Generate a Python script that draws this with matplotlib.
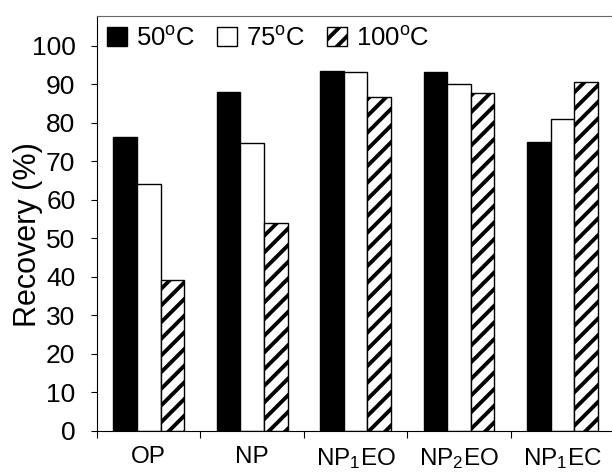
import matplotlib.pyplot as plt
import numpy as np

plt.rcParams['font.family'] = ['Liberation Sans', 'DejaVu Sans']
plt.rcParams['mathtext.fontset'] = 'custom'
plt.rcParams['mathtext.rm'] = 'Liberation Sans'
plt.rcParams['mathtext.it'] = 'Liberation Sans'
plt.rcParams['hatch.linewidth'] = 2.8

# Data
categories = ['OP', 'NP', 'NP$_1$EO', 'NP$_2$EO', 'NP$_1$EC']
series = ['50$^{\\rm o}$C', '75$^{\\rm o}$C', '100$^{\\rm o}$C']
rec_50 = [76.4, 88.1, 93.5, 93.1, 75.1]
rec_75 = [64.1, 74.8, 93.3, 90.0, 80.9]
rec_100 = [39.2, 53.9, 86.8, 87.8, 90.5]

fig = plt.figure(figsize=(6.12, 4.73), dpi=100)
ax = fig.add_axes([0.1585, 0.0888, 0.845, 0.877])

x = np.arange(len(categories)) + 0.5
w = 0.228
ax.bar(x - w, rec_50, w, color='black', edgecolor='black', linewidth=1, label=series[0])
ax.bar(x, rec_75, w, color='white', edgecolor='black', linewidth=1, label=series[1])
ax.bar(x + w, rec_100, w, color='white', edgecolor='black', linewidth=1,
       hatch='//', label=series[2])

ax.set_xlim(0, 5)
ax.set_ylim(0, 107.7)
ax.set_yticks(np.arange(0, 101, 10))
ax.set_xticks(np.arange(0, 6))
ax.set_xticklabels([])
ax.set_xticks(x, minor=True)
ax.set_xticklabels(categories, minor=True, fontsize=17.5)
ax.tick_params(axis='x', which='minor', length=0, pad=11)
ax.tick_params(axis='x', which='major', length=5, direction='out')
ax.tick_params(axis='y', length=4.5, direction='out', labelsize=19, pad=11)

ax.spines['right'].set_visible(False)
ax.spines['top'].set_color('#666666')
ax.set_ylabel('Recovery (%)', fontsize=22)
ax.yaxis.set_label_coords(-0.105, 0.4725)

ax.legend(loc='upper left', bbox_to_anchor=(0.0, 1.0), ncol=3, frameon=False,
          fontsize=18.5, handlelength=0.75, handleheight=0.8, handletextpad=0.38,
          columnspacing=0.85, borderaxespad=0.2, borderpad=0.2)

plt.savefig('out.png', dpi=100)
